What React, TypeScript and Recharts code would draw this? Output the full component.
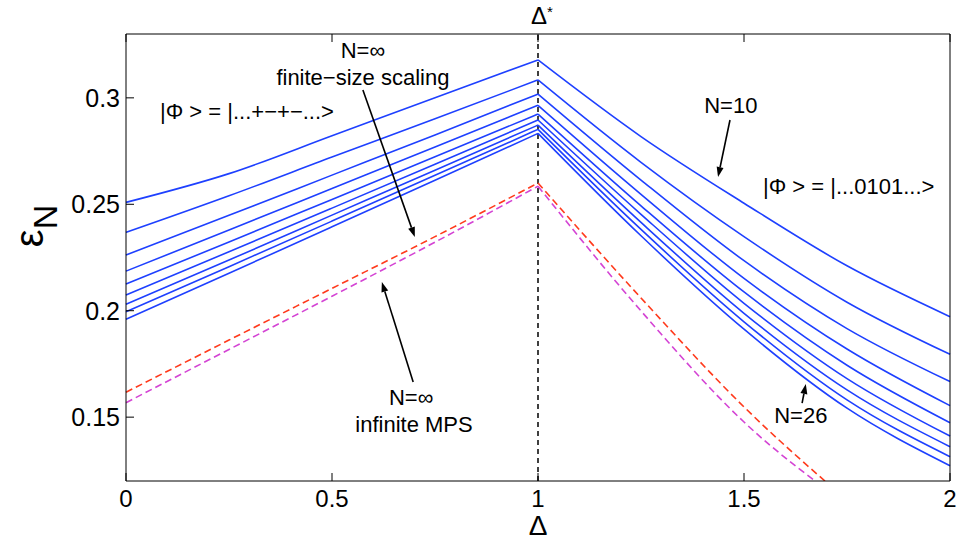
import { LineChart, Line, XAxis, YAxis, ReferenceLine, ReferenceDot } from "recharts";

const FONT = "'Liberation Sans', Arial, Helvetica, sans-serif";

const leftDeltas = [0, 0.25, 0.5, 0.75, 1];
const rightDeltas = [1, 1.25, 1.5, 1.75, 2];
const sizes = [10, 12, 14, 16, 18, 20, 22, 24, 26];

// eps_N for Δ = 0 .. 1 (one row per N)
const epsLeft = [
  [0.2509, 0.2644, 0.2822, 0.3001, 0.3178],
  [0.2368, 0.254, 0.2722, 0.2902, 0.3084],
  [0.2262, 0.2448, 0.2637, 0.2826, 0.3018],
  [0.2186, 0.2379, 0.2574, 0.2769, 0.2965],
  [0.2125, 0.2323, 0.2523, 0.2723, 0.2924],
  [0.2074, 0.2277, 0.2482, 0.2688, 0.2896],
  [0.203, 0.2238, 0.2449, 0.266, 0.2872],
  [0.1995, 0.2207, 0.2421, 0.2636, 0.2852],
  [0.196, 0.2176, 0.2394, 0.2613, 0.2833],
];

// eps_N for Δ = 1 .. 2
const epsRight = [
  [0.3178, 0.2818, 0.2505, 0.2211, 0.1972],
  [0.3084, 0.2697, 0.2348, 0.204, 0.1795],
  [0.3018, 0.2614, 0.2235, 0.1916, 0.1667],
  [0.2965, 0.2547, 0.2152, 0.182, 0.1554],
  [0.2924, 0.2493, 0.2088, 0.1744, 0.1474],
  [0.2896, 0.2453, 0.2035, 0.1681, 0.1411],
  [0.2872, 0.2415, 0.1988, 0.1628, 0.1361],
  [0.2852, 0.2382, 0.1948, 0.1581, 0.1314],
  [0.2833, 0.2352, 0.1913, 0.1542, 0.1272],
];

// N = ∞ : finite-size scaling (red) and infinite MPS (magenta)
const fssLeft = [0.1617, 0.1862, 0.2105, 0.2348, 0.26];
const fssRight = [0.26, 0.206, 0.1548, 0.111, null];
const impsLeft = [0.1568, 0.1818, 0.2068, 0.2322, 0.2585];
const impsRight = [0.2585, 0.1999, 0.1477, 0.109, null];

const xTicks = [0, 0.5, 1, 1.5, 2];
const yTicks = [0.15, 0.2, 0.25, 0.3];

const notes = [
  { x: 0.575, y: 0.3187, text: "N=∞", anchor: "middle" },
  { x: 0.575, y: 0.306, text: "finite−size scaling", anchor: "middle" },
  { x: 0.0825, y: 0.2901, text: "|Φ > = |...+−+−...>", anchor: "start" },
  { x: 1.468, y: 0.2929, text: "N=10", anchor: "middle" },
  { x: 1.546, y: 0.2548, text: "|Φ > = |...0101...>", anchor: "start" },
  { x: 0.692, y: 0.1557, text: "N=∞", anchor: "middle" },
  { x: 0.699, y: 0.143, text: "infinite MPS", anchor: "middle" },
  { x: 1.638, y: 0.1472, text: "N=26", anchor: "middle" },
];

const arrows = [
  { x1: 0.575, y1: 0.3037, x2: 0.701, y2: 0.2346 },
  { x1: 0.697, y1: 0.1665, x2: 0.621, y2: 0.2135 },
  { x1: 1.466, y1: 0.2896, x2: 1.437, y2: 0.2628 },
  { x1: 1.641, y1: 0.1566, x2: 1.65, y2: 0.1656 },
];

const allDeltas = [0, 0.25, 0.5, 0.75, 1, 1.25, 1.5, 1.75, 2];

const data = allDeltas.map((d) => {
  const row: Record<string, number | null> = { d };
  const li = leftDeltas.indexOf(d);
  const ri = rightDeltas.indexOf(d);
  sizes.forEach((n, k) => {
    row[`L${n}`] = li >= 0 ? epsLeft[k][li] : null;
    row[`R${n}`] = ri >= 0 ? epsRight[k][ri] : null;
  });
  row.fssL = li >= 0 ? fssLeft[li] : null;
  row.fssR = ri >= 0 ? fssRight[ri] : null;
  row.impsL = li >= 0 ? impsLeft[li] : null;
  row.impsR = ri >= 0 ? impsRight[ri] : null;
  return row;
});

function Arrow(p: any) {
  const { x1, y1, x2, y2 } = p;
  const a = Math.atan2(y2 - y1, x2 - x1);
  const len = 10;
  const w = 3.5;
  const bx = x2 - len * Math.cos(a);
  const by = y2 - len * Math.sin(a);
  const pts = `${x2},${y2} ${bx + w * Math.sin(a)},${by - w * Math.cos(a)} ${bx - w * Math.sin(a)},${by + w * Math.cos(a)}`;
  return (
    <g>
      <line x1={x1} y1={y1} x2={bx} y2={by} stroke="#000" strokeWidth={1.6} />
      <polygon points={pts} fill="#000" />
    </g>
  );
}

const noTick = () => <g />;

export default function App() {
  const blue = "#1e40ff";
  return (
    <div style={{ position: "absolute", left: 0, top: 0, background: "#fff" }}>
      <LineChart
        width={960}
        height={540}
        data={data}
        margin={{ top: 33, right: 9, bottom: 0, left: 0 }}
        style={{ fontFamily: FONT }}
      >
        <XAxis
          dataKey="d"
          type="number"
          domain={[0, 2]}
          ticks={xTicks}
          interval={0}
          height={59}
          tickSize={-8}
          tickMargin={17}
          axisLine={{ stroke: "#000" }}
          tickLine={{ stroke: "#000" }}
          tick={{ fill: "#000", fontSize: 24, fontFamily: FONT }}
          tickFormatter={(v: number) => String(v)}
          label={{
            content: (p: any) => (
              <text
                x={p.viewBox.x + p.viewBox.width / 2}
                y={535}
                textAnchor="middle"
                fontSize={28}
                fontFamily={FONT}
                fill="#000"
              >
                Δ
              </text>
            ),
          }}
        />
        <XAxis
          xAxisId="top"
          dataKey="d"
          type="number"
          orientation="top"
          domain={[0, 2]}
          ticks={xTicks}
          interval={0}
          height={1}
          tickSize={-8}
          axisLine={{ stroke: "#000" }}
          tickLine={{ stroke: "#000" }}
          tick={noTick}
        />
        <YAxis
          type="number"
          domain={[0.12, 0.33]}
          allowDataOverflow
          ticks={yTicks}
          interval={0}
          width={126}
          tickSize={-8}
          tickMargin={14}
          axisLine={{ stroke: "#000" }}
          tickLine={{ stroke: "#000" }}
          tick={{ fill: "#000", fontSize: 25, fontFamily: FONT }}
          tickFormatter={(v: number) => String(v)}
          label={{
            content: () => (
              <text
                transform="translate(43, 226) rotate(-90)"
                textAnchor="middle"
                fontFamily={FONT}
                fill="#000"
              >
                <tspan fontSize={40}>ε</tspan>
                <tspan fontSize={34} dy={14}>N</tspan>
              </text>
            ),
          }}
        />
        <YAxis
          yAxisId="right"
          type="number"
          orientation="right"
          domain={[0.12, 0.33]}
          ticks={yTicks}
          interval={0}
          width={1}
          tickSize={-8}
          axisLine={{ stroke: "#000" }}
          tickLine={{ stroke: "#000" }}
          tick={noTick}
        />

        <ReferenceLine x={1} stroke="#000" strokeWidth={1.5} strokeDasharray="5 4" />

        {sizes.map((n) => (
          <Line
            key={`L${n}`}
            dataKey={`L${n}`}
            type="monotone"
            stroke={blue}
            strokeWidth={1.6}
            dot={false}
            activeDot={false}
            isAnimationActive={false}
          />
        ))}
        {sizes.map((n) => (
          <Line
            key={`R${n}`}
            dataKey={`R${n}`}
            type="monotone"
            stroke={blue}
            strokeWidth={1.6}
            dot={false}
            activeDot={false}
            isAnimationActive={false}
          />
        ))}
        <Line dataKey="fssL" type="monotone" stroke="#ff3a1c" strokeWidth={1.6} strokeDasharray="7 4" dot={false} activeDot={false} isAnimationActive={false} />
        <Line dataKey="fssR" type="monotone" stroke="#ff3a1c" strokeWidth={1.6} strokeDasharray="7 4" dot={false} activeDot={false} isAnimationActive={false} />
        <Line dataKey="impsL" type="monotone" stroke="#d444d4" strokeWidth={1.6} strokeDasharray="7 4" dot={false} activeDot={false} isAnimationActive={false} />
        <Line dataKey="impsR" type="monotone" stroke="#d444d4" strokeWidth={1.6} strokeDasharray="7 4" dot={false} activeDot={false} isAnimationActive={false} />

        {arrows.map((a, i) => (
          <ReferenceLine
            key={`arr${i}`}
            segment={[
              { x: a.x1, y: a.y1 },
              { x: a.x2, y: a.y2 },
            ]}
            shape={Arrow}
          />
        ))}

        {notes.map((t, i) => (
          <ReferenceDot
            key={`note${i}`}
            x={t.x}
            y={t.y}
            ifOverflow="visible"
            shape={(p: any) => (
              <text x={p.cx} y={p.cy} textAnchor={t.anchor} fontSize={22} fontFamily={FONT} fill="#000">
                {t.text}
              </text>
            )}
          />
        ))}

        <ReferenceDot
          x={1}
          y={0.3347}
          ifOverflow="visible"
          shape={(p: any) => (
            <text x={p.cx + 4} y={p.cy} textAnchor="middle" fontFamily={FONT} fill="#000">
              <tspan fontSize={24}>Δ</tspan>
              <tspan fontSize={15} dy={-7}>*</tspan>
            </text>
          )}
        />
      </LineChart>
    </div>
  );
}
